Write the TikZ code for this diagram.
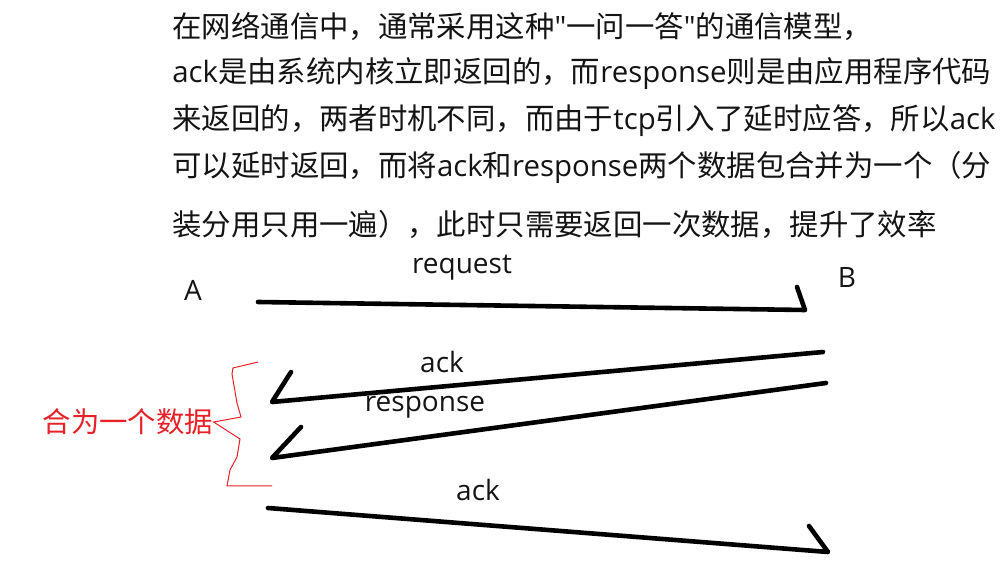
\documentclass[tikz,border=0pt]{standalone}
\usepackage{fontspec}
\setmainfont{Noto Sans CJK SC}[Ligatures=TeXOff]
\newfontfamily\latfont{Open Sans}[Ligatures=TeXOff]
\newcommand\lat[1]{{\latfont #1}}
\usetikzlibrary{positioning}
\definecolor{penred}{RGB}{232,32,40}
\definecolor{inkgray}{RGB}{20,20,20}

\begin{document}
\begin{tikzpicture}[x=0.5pt,y=-0.5pt,
    note/.style={anchor=west, inner sep=0pt, text=inkgray, font=\fontsize{14.7}{16}\selectfont},
    peer/.style={inner sep=0pt, text=inkgray, font=\latfont\fontsize{14}{15}\selectfont},
    msg/.style={line width=2.3pt, line cap=round, line join=round},
    brace/.style={penred, line width=0.5pt}]
\useasboundingbox (0,0) rectangle (1008,588);

% explanation
\node[note] (line1) at (172,27) {在网络通信中，通常采用这种\lat{"}一问一答\lat{"}的通信模型，};
\node[note] (line2) at (172,74) {\lat{ack}是由系统内核立即返回的，而\lat{response}则是由应用程序代码};
\node[note] (line3) at (172,121) {来返回的，两者时机不同，而由于\lat{tcp}引入了延时应答，所以\lat{ack}};
\node[note] (line4) at (172,167) {可以延时返回，而将\lat{ack}和\lat{response}两个数据包合并为一个（分};
\node[note] (line5) at (172,224) {装分用只用一遍），此时只需要返回一次数据，提升了效率};

% the two ends
\node[peer] (A) at (193,290) {A};
\node[peer] (B) at (847,278) {B};

\coordinate (reqS) at (258,302);
\coordinate (reqE) at (805,310);
\coordinate (reqT) at (797,287);
\coordinate (ackS) at (823,352);
\coordinate (ackE) at (272,402);
\coordinate (ackT) at (291,372);
\coordinate (resS) at (826,383);
\coordinate (resE) at (272,458);
\coordinate (resT) at (301,427);
\coordinate (lastS) at (268,508);
\coordinate (lastE) at (828,552);
\coordinate (lastT) at (809,526);

\draw[msg] (reqS) -- (reqE) -- (reqT);
\draw[msg] (ackS) -- (ackE) -- (ackT);
\draw[msg] (resS) -- (resE) -- (resT);
\draw[msg] (lastS) -- (lastE) -- (lastT);

\node[peer] (request) at (462,268) {request};
\node[peer] (ack1) at (442,362) {ack};
\node[peer] (response) at (425,407) {response};
\node[peer] (ack2) at (478,490) {ack};

% merged reply
\node[inner sep=0pt, text=penred, font=\fontsize{14.2}{16}\selectfont] (merged) at (128,422) {合为一个数据};
\draw[brace] (258,362) -- (233,368) -- (232,374) -- (237,403) -- (241,417)
  -- (merged.east) -- (240,439) -- (237,457) -- (230,470) -- (227,486) -- (272,486);
\end{tikzpicture}
\end{document}
